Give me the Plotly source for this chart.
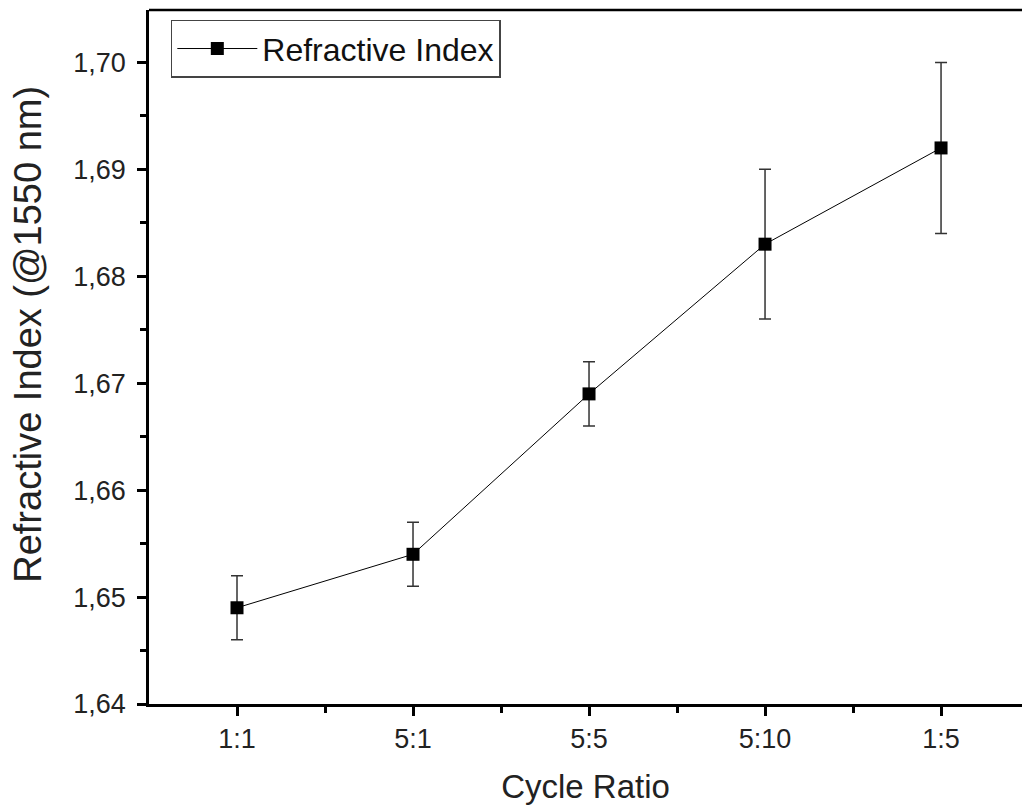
import plotly.graph_objects as go

# Cycle ratio categories and measured refractive index at 1550 nm
categories = ["1:1", "5:1", "5:5", "5:10", "1:5"]
refractive_index = [1.649, 1.654, 1.669, 1.683, 1.692]
error_plus = [0.003, 0.003, 0.003, 0.007, 0.008]
error_minus = [0.003, 0.003, 0.003, 0.007, 0.008]

positions = list(range(1, len(categories) + 1))
font_family = "Liberation Sans, Arial, sans-serif"

fig = go.Figure()
fig.add_trace(go.Scatter(
    x=positions,
    y=refractive_index,
    mode="lines+markers",
    name="Refractive Index",
    line=dict(color="black", width=1),
    marker=dict(symbol="square", size=13, color="black"),
    error_y=dict(
        type="data",
        symmetric=False,
        array=error_plus,
        arrayminus=error_minus,
        color="#333333",
        thickness=1.5,
        width=6,
    ),
))

# Top frame line
fig.add_shape(type="line", xref="paper", yref="paper",
              x0=0, x1=1.02, y0=1, y1=1,
              line=dict(color="black", width=2.5))

# Y-axis title placed as a rotated annotation
fig.add_annotation(
    text="Refractive Index (@1550 nm)",
    xref="paper", yref="paper",
    x=-0.1386, y=0.532,
    xanchor="center", yanchor="middle",
    textangle=-90, showarrow=False,
    font=dict(size=38, family=font_family, color="#222222"),
)

fig.update_layout(
    width=1022,
    height=805,
    margin=dict(l=149, r=0, t=10, b=101),
    paper_bgcolor="white",
    plot_bgcolor="white",
    font=dict(family=font_family, color="#222222"),
    showlegend=True,
    legend=dict(
        x=0.025, y=0.986, xanchor="left", yanchor="top",
        bordercolor="#444444", borderwidth=1.5,
        bgcolor="white",
        font=dict(size=32, family=font_family, color="#111111"),
        itemwidth=80,
        tracegroupgap=0,
    ),
    xaxis=dict(
        range=[0.5, 5.46],
        tickmode="array",
        tickvals=positions,
        ticktext=categories,
        ticks="outside",
        ticklen=9,
        tickwidth=2.5,
        tickcolor="black",
        showline=True,
        linecolor="black",
        linewidth=2.5,
        showgrid=False,
        zeroline=False,
        tickfont=dict(size=27, family=font_family),
        minor=dict(tickmode="array", tickvals=[1.5, 2.5, 3.5, 4.5],
                   ticks="outside", ticklen=6, tickwidth=2.5, tickcolor="black",
                   showgrid=False),
        title=dict(text="Cycle Ratio", font=dict(size=33, family=font_family),
                   standoff=22),
    ),
    yaxis=dict(
        range=[1.64, 1.7049],
        tickmode="array",
        tickvals=[1.64, 1.65, 1.66, 1.67, 1.68, 1.69, 1.70],
        ticktext=["1,64", "1,65", "1,66", "1,67", "1,68", "1,69", "1,70"],
        ticks="outside",
        ticklen=9,
        tickwidth=2.5,
        tickcolor="black",
        ticklabelstandoff=6,
        showline=True,
        linecolor="black",
        linewidth=2.5,
        showgrid=False,
        zeroline=False,
        tickfont=dict(size=27, family=font_family),
        minor=dict(tickmode="array",
                   tickvals=[1.645, 1.655, 1.665, 1.675, 1.685, 1.695],
                   ticks="outside", ticklen=6, tickwidth=2.5, tickcolor="black",
                   showgrid=False),
    ),
)

fig.write_html("out.html")
